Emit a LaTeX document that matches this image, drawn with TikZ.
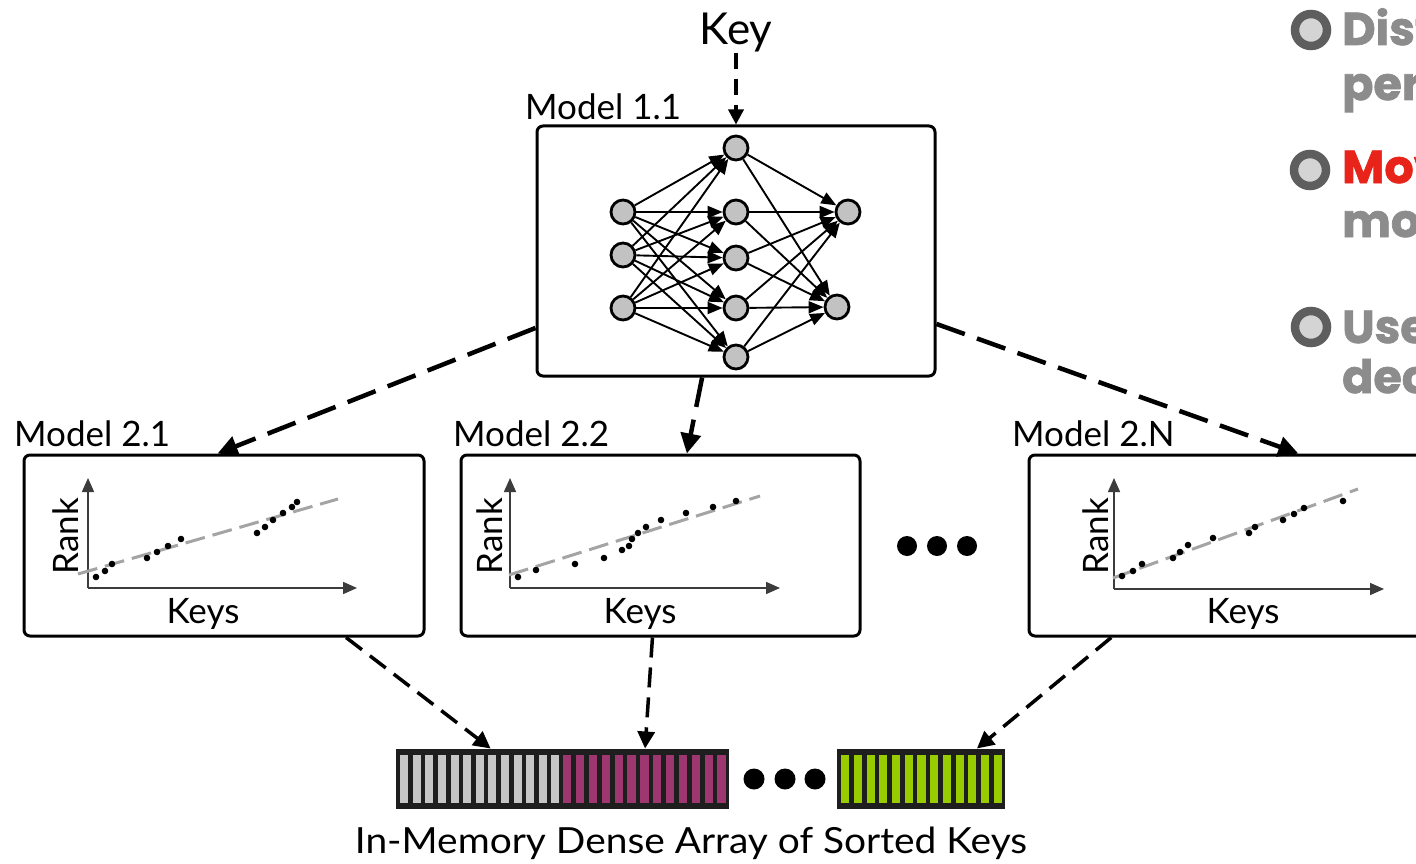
\documentclass[tikz,border=0pt]{standalone}
\usepackage{fontspec}
\setmainfont{Lato}
\newfontfamily\heavyfont{Poppins}[BoldFeatures={FakeBold=1.5}]
\usetikzlibrary{arrows.meta,calc}
\definecolor{nngrey}{HTML}{C2C2C2}
\definecolor{axisgrey}{HTML}{3C3C3C}
\definecolor{fitgrey}{HTML}{A4A4A4}
\definecolor{celldark}{HTML}{1E1E1E}
\definecolor{cellgrey}{HTML}{C6C6C6}
\definecolor{cellmag}{HTML}{9E3770}
\definecolor{cellgreen}{HTML}{99CC00}
\definecolor{bulletdark}{HTML}{5E5E5E}
\definecolor{bulletlight}{HTML}{D4D4D4}
\definecolor{textgrey}{HTML}{8C8C8C}
\definecolor{textred}{HTML}{E8241A}
\tikzset{
  mbox/.style={draw, line width=3pt, rounded corners=6pt, fill=white, inner sep=0},
  nn/.style={circle, draw, line width=2.8pt, fill=nngrey, minimum size=24pt, inner sep=0},
  nnedge/.style={line width=1.9pt, -{Triangle[length=15pt,width=12pt]}},
  bigdash/.style={line width=4.5pt, dash pattern=on 30pt off 13pt, -{Triangle[length=20pt,width=20pt]}},
  middash/.style={line width=3.5pt, dash pattern=on 20pt off 10pt, -{Triangle[length=17pt,width=17pt]}},
  keyarrow/.style={line width=3.5pt, dash pattern=on 16pt off 10pt, -{Triangle[length=15pt,width=15pt]}},
  axisline/.style={line width=1.5pt, draw=axisgrey, -{Triangle[length=14pt,width=12pt]}},
  fitline/.style={line width=3pt, draw=fitgrey, dash pattern=on 20pt off 8pt},
  lbl/.style={inner sep=0, font=\fontsize{35}{40}\selectfont},
  arrblk/.style={draw=celldark, fill=celldark, line width=3pt, minimum height=57pt, inner sep=0},
  bigdot/.style={circle, fill=black, minimum size=20pt, inner sep=0},
  bulletnode/.style={circle, draw=bulletdark, fill=bulletlight, line width=8.5pt, minimum size=32pt, inner sep=0},
  rtext/.style={anchor=base west, inner sep=0, text=textgrey, font=\heavyfont\bfseries\fontsize{46}{50}\selectfont},
}
\begin{document}
\begin{tikzpicture}[x=1pt,y=-1pt]
\path[use as bounding box, clip] (0,0) rectangle (1416,864);
\fill[white] (0,0) rectangle (1416,864);

% ---------- top model ----------
\node[lbl, font=\fontsize{44}{48}\selectfont, anchor=base] (key) at (736,45) {Key};
\node[mbox, minimum width=398pt, minimum height=250pt] (m11) at (736,251) {};
\node[lbl, anchor=base west] (l11) at (525,120) {Model 1.1};
\draw[keyarrow] (key.south) -- (m11.north);

% neural net
\node[nn] (i1) at (623,212) {};
\node[nn] (i2) at (623,255) {};
\node[nn] (i3) at (623,308) {};
\node[nn] (h1) at (736,148) {};
\node[nn] (h2) at (736,212) {};
\node[nn] (h3) at (736,258) {};
\node[nn] (h4) at (736,308) {};
\node[nn] (h5) at (736,357) {};
\node[nn] (o1) at (848,212) {};
\node[nn] (o2) at (837,307) {};
\foreach \a in {i1,i2,i3} \foreach \b in {h1,h2,h3,h4,h5} \draw[nnedge] (\a) -- (\b);
\foreach \a in {h1,h2,h3,h4,h5} \foreach \b in {o1,o2} \draw[nnedge] (\a) -- (\b);

% ---------- second stage ----------
\node[mbox, minimum width=400pt, minimum height=181pt] (m21) at (224,545.5) {};
\node[mbox, minimum width=399pt, minimum height=181pt] (m22) at (660.5,545.5) {};
\node[mbox, minimum width=400pt, minimum height=181pt] (m2n) at (1229,545.5) {};
\node[lbl, anchor=base west] (l21) at (14,446) {Model 2.1};
\node[lbl, anchor=base west] (l22) at (453,446) {Model 2.2};
\node[lbl, anchor=base west] (l2n) at (1012,446) {Model 2.N};

\draw[bigdash] (m11.201) -- (m21.94);
\draw[bigdash] (m11.255) -- (m22.74);
\draw[bigdash] (m11.340) -- (m2n.53);

% plot 1
\draw[axisline] (88,588) -- (88,478);
\draw[axisline] (88,588) -- (357,588);
\draw[fitline] (78,574) -- (338,499);
\foreach \p in {(96,577),(105,571),(112,564),(147,558),(157,552),(168,546),(181,539),(257,533),(265,527),(273,520),(283,513),(292,507),(297,502)}
  \fill \p circle (3.3);
\node[lbl, rotate=90, anchor=base] (r1) at (78,536) {Rank};
\node[lbl, anchor=base] (k1) at (203,623) {Keys};

% plot 2
\draw[axisline] (510,588) -- (510,478);
\draw[axisline] (510,588) -- (780,588);
\draw[fitline] (509,575) -- (760,496);
\foreach \p in {(518,577),(536,570),(575,564),(604,558),(622,550),(629,546),(632,539),(638,533),(646,527),(661,520),(686,513),(713,507),(736,501)}
  \fill \p circle (3.3);
\node[lbl, rotate=90, anchor=base] (r2) at (502,536) {Rank};
\node[lbl, anchor=base] (k2) at (640,623) {Keys};

% plot 3
\draw[axisline] (1114,589) -- (1114,478);
\draw[axisline] (1114,589) -- (1384,589);
\draw[fitline] (1113,578) -- (1358,489);
\foreach \p in {(1122,576),(1133,571),(1142,564),(1173,558),(1180,552),(1188,545),(1213,538),(1249,533),(1255,527),(1283,520),(1294,514),(1304,508),(1343,501)}
  \fill \p circle (3.3);
\node[lbl, rotate=90, anchor=base] (r3) at (1108,536) {Rank};
\node[lbl, anchor=base] (k3) at (1243,623) {Keys};

% dots between models
\node[bigdot] (d1) at (907,546) {};
\node[bigdot] (d2) at (937,546) {};
\node[bigdot] (d3) at (967,546) {};

% ---------- array ----------
\node[arrblk, minimum width=163pt] (arrA) at (478.5,778.5) {};
\node[arrblk, minimum width=167pt] (arrB) at (643.5,778.5) {};
\node[arrblk, minimum width=165pt] (arrC) at (920.5,778.5) {};
\foreach \i in {0,...,12} {
  \fill[cellgrey] ({397+\i*12.6+3.2},754.5) rectangle ({397+(\i+1)*12.6-1.4},802.5);
  \fill[cellmag] ({560+\i*12.85+3.2},754.5) rectangle ({560+(\i+1)*12.85-1.4},802.5);
  \fill[cellgreen] ({838+\i*12.7+3.2},754.5) rectangle ({838+(\i+1)*12.7-1.4},802.5);
}
\node[bigdot, minimum size=21pt] (a1) at (754,779) {};
\node[bigdot, minimum size=21pt] (a2) at (785,779) {};
\node[bigdot, minimum size=21pt] (a3) at (815,779) {};
\node[lbl, anchor=base, font=\fontsize{36}{40}\selectfont] (arrlbl) at (691,853) {\scalebox{1.08}[1]{In-Memory Dense Array of Sorted Keys}};

\draw[middash] (m21.323) -- (arrA.68);
\draw[middash] (m22.265) -- (arrB.87);
\draw[middash] (m2n.218) -- (arrC.28);

% ---------- right text ----------
\node[bulletnode] (b1) at (1311,30) {};
\node[bulletnode] (b2) at (1310,170) {};
\node[bulletnode] (b3) at (1311,327) {};
\node[rtext] (t1a) at (1342,45) {Dist};
\node[rtext] (t1b) at (1342,100) {per};
\node[rtext, text=textred] (t2a) at (1342,183) {Mov};
\node[rtext] (t2b) at (1342,237) {mod};
\node[rtext] (t3a) at (1342,343) {Use};
\node[rtext] (t3b) at (1342,393) {dec};
\end{tikzpicture}
\end{document}
